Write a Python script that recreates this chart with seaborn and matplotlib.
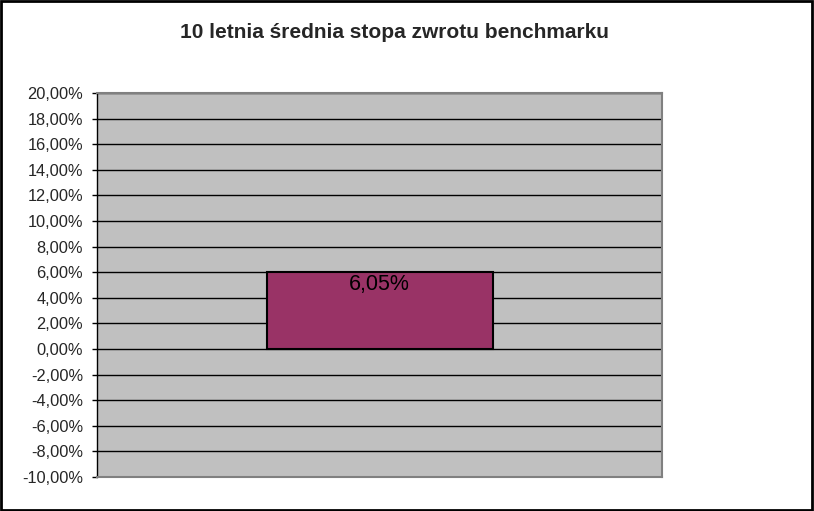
import matplotlib
matplotlib.use("Agg")
import matplotlib.pyplot as plt
from matplotlib.patches import Rectangle
import numpy as np
import pandas as pd
import seaborn as sns

categories = ["benchmark"]
values = [6.05]
title = "10 letnia średnia stopa zwrotu benchmarku"
y_ticks = list(range(-10, 21, 2))

sns.set_style("white")
plt.rcParams["font.family"] = ["Liberation Sans", "DejaVu Sans"]

df = pd.DataFrame({"kategoria": categories, "wartosc": values})

fig = plt.figure(figsize=(8.14, 5.11), dpi=100)
ax = fig.add_axes([97 / 814, 1 - 477 / 511, 565 / 814, 384 / 511])
ax.set_facecolor("#C0C0C0")

sns.barplot(data=df, x="kategoria", y="wartosc", color="#993366", width=0.4,
            edgecolor="black", linewidth=1.5, saturation=1, ax=ax, zorder=3)

ax.set_xlim(-0.5, 0.5)
ax.set_ylim(-10, 20)
ax.set_yticks(y_ticks)
ax.set_yticklabels([f"{t:.2f}%".replace(".", ",") for t in y_ticks], fontsize=11.8)
ax.set_xticks([])
ax.set_xlabel("")
ax.set_ylabel("")
ax.yaxis.grid(True, color="black", linewidth=1)
ax.set_axisbelow(True)
ax.tick_params(axis="y", direction="out", length=3.6, width=1, color="black", left=True, pad=6.5)
for side in ["top", "right", "bottom"]:
    ax.spines[side].set_color("#808080")
    ax.spines[side].set_linewidth(1.5)
ax.spines["left"].set_color("black")
ax.spines["left"].set_linewidth(1)

for i, v in enumerate(values):
    ax.annotate(f"{v:.2f}%".replace(".", ","), xy=(i, v), xytext=(0, -2),
                textcoords="offset points", ha="center", va="top", fontsize=15.5,
                color="black", zorder=4)

fig.text(394 / 814, 1 - 33 / 511, title, ha="center", va="center",
         fontsize=15, fontweight="bold")

fig.patches.append(Rectangle((0.001, 0.002), 0.997, 0.996, transform=fig.transFigure,
                             fill=False, edgecolor="black", linewidth=2))

fig.savefig("out.png", dpi=100)
